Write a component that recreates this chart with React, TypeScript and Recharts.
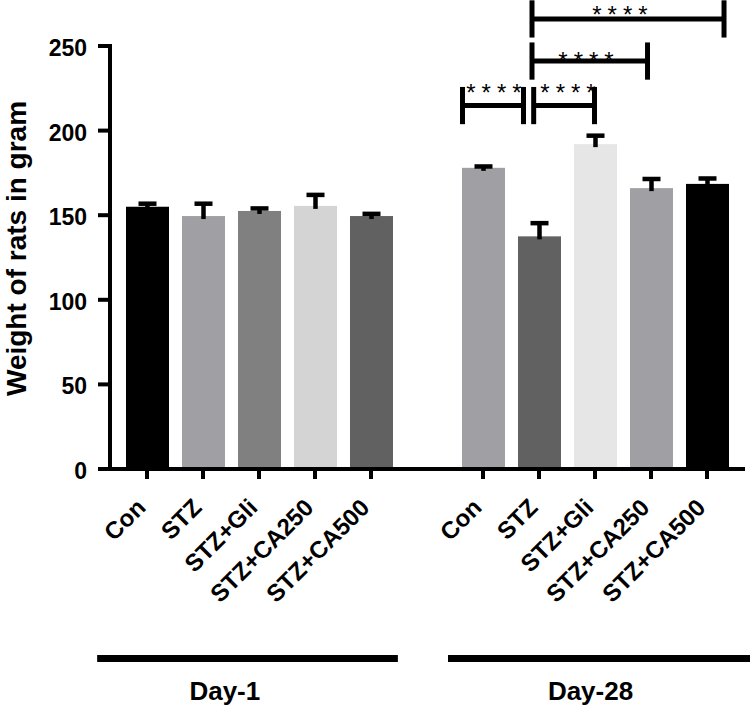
import React from "react";
import { BarChart, Bar, XAxis, YAxis, Cell, Label, ReferenceLine, ReferenceDot } from "recharts";

// 11 slots: 5 groups for Day-1, an empty gap, 5 groups for Day-28
const slots = ["d1-con", "d1-stz", "d1-gli", "d1-ca250", "d1-ca500", "gap", "d28-con", "d28-stz", "d28-gli", "d28-ca250", "d28-ca500"];
const tickLabels = ["Con", "STZ", "STZ+Gli", "STZ+CA250", "STZ+CA500", "", "Con", "STZ", "STZ+Gli", "STZ+CA250", "STZ+CA500"];
const means = [155, 149.5, 152.5, 155.5, 149.5, null, 178, 137.5, 192, 166, 168.5];
const sems = [1.8, 7.3, 1.5, 6.5, 1.3, null, 0.8, 7.8, 5.0, 5.4, 3.2];
const barColors = ["#000000", "#a0a0a4", "#808080", "#d4d4d4", "#616161", "#ffffff", "#a0a0a4", "#616161", "#e6e6e6", "#a0a0a4", "#000000"];
const yTicks = [0, 50, 100, 150, 200, 250];

// significance brackets (x in slot index units, y in grams)
const bracketFrom = [5.634, 6.905, 6.875, 6.875];
const bracketTo = [6.723, 7.991, 8.938, 10.304];
const bracketLevel = [214.8, 214.8, 241.1, 266.0];
const starX = [6.196, 7.518, 7.839, 8.446];
const starY = [225.8, 225.8, 244.7, 271.9];

// day groups under the axis
const groupLabels = ["Day-1", "Day-28"];
const groupLabelX = [1.39, 7.92];
const groupLineFrom = [-0.89, 5.375];
const groupLineTo = [4.48, 10.95];
const groupLineY = -112;
const groupLabelY = -136.5;

const data = slots.map((key, i) => ({ key, mean: means[i], sem: sems[i] }));

const FONT = "Arial, 'Liberation Sans', sans-serif";

const BarWithError = (props: any) => {
  const { x, y, width, height, fill, payload } = props;
  if (payload.mean == null || !height) return null;
  const k = height / payload.mean;
  const top = y - payload.sem * k;
  const cx = x + width / 2;
  return (
    <g>
      <rect x={x} y={y} width={width} height={height} fill={fill} />
      <line x1={cx} x2={cx} y1={y + 3} y2={top} stroke="#000" strokeWidth={4.5} />
      <line x1={cx - 9} x2={cx + 9} y1={top} y2={top} stroke="#000" strokeWidth={4.5} />
    </g>
  );
};

const XTick = (props: any) => {
  const { x, y, payload } = props;
  const idx = slots.indexOf(payload.value);
  return (
    <g transform={`translate(${x},${y + 28})`}>
      <text transform="rotate(-45)" textAnchor="end" fontFamily={FONT} fontWeight="bold" fontSize={24} fill="#000">
        {tickLabels[idx]}
      </text>
    </g>
  );
};

const YTick = (props: any) => {
  const { x, y, payload } = props;
  return (
    <text x={x} y={y} dy={10} textAnchor="end" fontFamily={FONT} fontWeight="bold" fontSize={23} fill="#000">
      {payload.value}
    </text>
  );
};

const YTitle = (props: any) => {
  const vb = props.viewBox;
  const cy = vb ? vb.y + vb.height / 2 - 9 : 248;
  return (
    <text x={26} y={cy} transform={`rotate(-90 26 ${cy})`} textAnchor="middle" fontFamily={FONT} fontWeight="bold" fontSize={28} fill="#000">
      Weight of rats in gram
    </text>
  );
};

const Stars = (props: any) => (
  <text x={props.cx + 3} y={props.cy + 14} textAnchor="middle" fontFamily={FONT} fontSize={24} letterSpacing={6} fill="#000">
    ****
  </text>
);

const groupText = (label: string) => (props: any) => (
  <text x={props.cx} y={props.cy} textAnchor="middle" fontFamily={FONT} fontWeight="bold" fontSize={26} fill="#000">
    {label}
  </text>
);

export default function App() {
  return (
    <div style={{ position: "absolute", left: 0, top: 0, background: "#fff" }}>
      <BarChart width={750} height={714} data={data} margin={{ top: 46, right: 5, left: 0, bottom: 0 }} barSize={43}>
        <XAxis
          dataKey="key"
          ticks={slots.filter((s) => s !== "gap")}
          interval={0}
          height={245}
          padding={{ left: 9, right: 10 }}
          tickSize={10}
          axisLine={{ stroke: "#000", strokeWidth: 4 }}
          tickLine={{ stroke: "#000", strokeWidth: 4 }}
          tick={<XTick />}
        />
        <XAxis xAxisId="n" type="number" domain={[0, 10]} padding={{ left: 37, right: 38 }} allowDataOverflow hide />
        <YAxis
          domain={[0, 250]}
          ticks={yTicks}
          width={110}
          tickSize={12}
          tickMargin={11}
          axisLine={{ stroke: "#000", strokeWidth: 4, strokeLinecap: "square" }}
          tickLine={{ stroke: "#000", strokeWidth: 4 }}
          tick={<YTick />}
        >
          <Label content={<YTitle />} />
        </YAxis>
        <Bar dataKey="mean" shape={<BarWithError />} isAnimationActive={false}>
          {data.map((d, i) => (
            <Cell key={d.key} fill={barColors[i]} />
          ))}
        </Bar>
        {bracketFrom.map((from, i) => {
          const to = bracketTo[i];
          const lv = bracketLevel[i];
          return (
            <React.Fragment key={`br${i}`}>
              <ReferenceLine xAxisId="n" segment={[{ x: from, y: lv - 11 }, { x: from, y: lv + 11 }]} stroke="#000" strokeWidth={5} ifOverflow="visible" />
              <ReferenceLine xAxisId="n" segment={[{ x: from, y: lv }, { x: to, y: lv }]} stroke="#000" strokeWidth={5} ifOverflow="visible" />
              <ReferenceLine xAxisId="n" segment={[{ x: to, y: lv - 11 }, { x: to, y: lv + 11 }]} stroke="#000" strokeWidth={5} ifOverflow="visible" />
              <ReferenceDot xAxisId="n" x={starX[i]} y={starY[i]} r={0} ifOverflow="visible" shape={<Stars />} />
            </React.Fragment>
          );
        })}
        {groupLabels.map((g, i) => (
          <React.Fragment key={g}>
            <ReferenceLine
              xAxisId="n"
              segment={[{ x: groupLineFrom[i], y: groupLineY }, { x: groupLineTo[i], y: groupLineY }]}
              stroke="#000"
              strokeWidth={7}
              ifOverflow="visible"
            />
            <ReferenceDot xAxisId="n" x={groupLabelX[i]} y={groupLabelY} r={0} ifOverflow="visible" shape={groupText(g)} />
          </React.Fragment>
        ))}
      </BarChart>
    </div>
  );
}
